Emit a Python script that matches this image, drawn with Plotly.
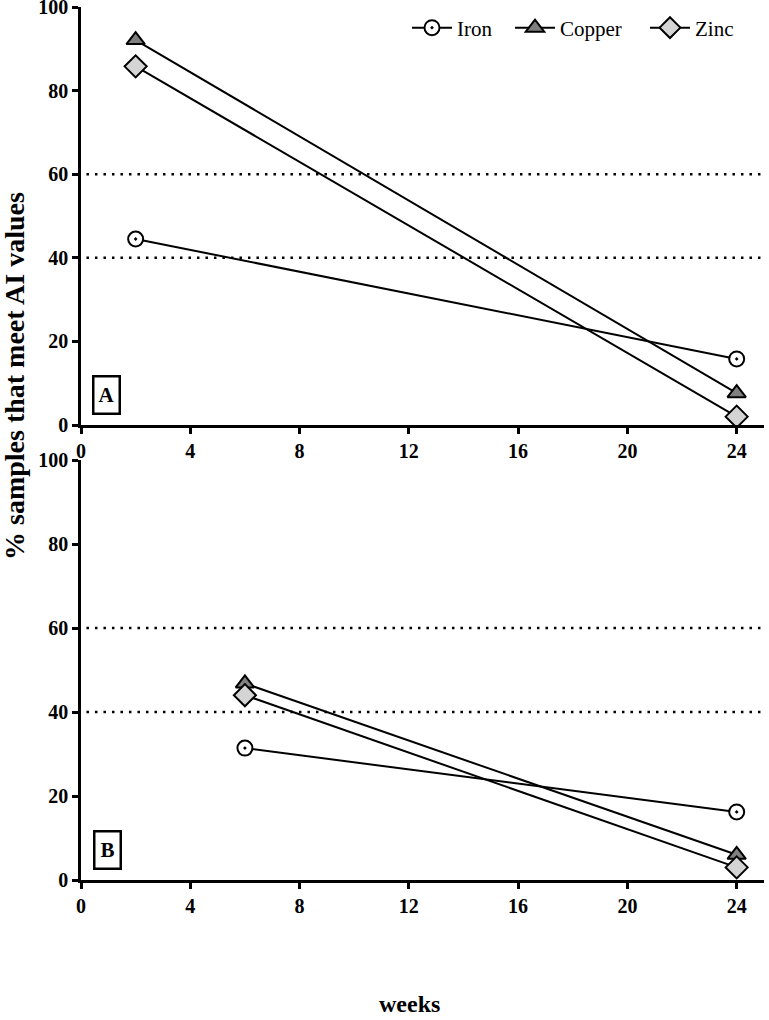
import plotly.graph_objects as go

weeks_a = [2, 24]
weeks_b = [6, 24]
iron_a = [44.5, 15.8]
copper_a = [92.1, 7.6]
zinc_a = [85.8, 2.0]
iron_b = [31.4, 16.2]
copper_b = [46.8, 6.0]
zinc_b = [44.0, 3.0]

series_names = ["Iron", "Copper", "Zinc"]
x_ticks = [0, 4, 8, 12, 16, 20, 24]
y_ticks = [0, 20, 40, 60, 80, 100]
ref_levels = [40, 60]

W, H = 769, 1020
ML, MR, MT, MB = 81, 5, 7, 140
PW = W - ML - MR
PH = H - MT - MB

styles = {
    "Iron": dict(symbol="circle-dot", color="white", size=15),
    "Copper": dict(symbol="triangle-up", color="#7f7f7f", size=16),
    "Zinc": dict(symbol="diamond", color="#d4d4d4", size=17),
}
legend_ids = {"Iron": "legend", "Copper": "legend2", "Zinc": "legend3"}

fig = go.Figure()

panels = [
    ("x", "y", weeks_a, [iron_a, copper_a, zinc_a], True),
    ("x2", "y2", weeks_b, [iron_b, copper_b, zinc_b], False),
]
for xa, ya, wk, vals, show in panels:
    for name, v in zip(series_names, vals):
        s = styles[name]
        fig.add_trace(go.Scatter(
            x=wk, y=v, name=name, mode="lines+markers", xaxis=xa, yaxis=ya,
            showlegend=show, legend=legend_ids[name], cliponaxis=False,
            line=dict(color="black", width=2),
            marker=dict(symbol=s["symbol"], size=s["size"], color=s["color"],
                        line=dict(color="black", width=2)),
        ))

for xr, yr in [("x", "y"), ("x2", "y2")]:
    for lv in ref_levels:
        fig.add_shape(type="line", xref=xr, yref=yr, x0=0.2, x1=25.0, y0=lv, y1=lv,
                      line=dict(color="black", width=2.5, dash="2.5px,6px"))

top_bottom = (H - MB - 425) / PH
bot_top = (H - MB - 460) / PH

tickfont = dict(family="Liberation Serif", size=20, color="black", weight="bold")
xcommon = dict(range=[0, 25.0], tickvals=x_ticks, showline=True, linecolor="black",
               linewidth=2.5, ticks="outside", ticklen=6, tickwidth=2.5, tickcolor="black",
               showgrid=False, zeroline=False, tickfont=tickfont, domain=[0, 1],
               automargin=False, ticklabeloverflow="allow")
ycommon = dict(range=[0, 100], tickvals=y_ticks, showline=True, linecolor="black",
               linewidth=2.5, ticks="outside", ticklen=6, tickwidth=2.5, tickcolor="black",
               showgrid=False, zeroline=False, tickfont=tickfont, automargin=False,
               ticklabeloverflow="allow")

def px_x(p):
    return (p - ML) / PW

def px_y(p):
    return (H - MB - p) / PH

legfont = dict(family="Liberation Serif", size=21, color="black")
def leg(xpx):
    return dict(orientation="h", x=px_x(xpx), xanchor="left", y=px_y(28), yanchor="middle",
                font=legfont, bgcolor="rgba(0,0,0,0)", itemwidth=40)

fig.update_layout(
    width=W, height=H,
    margin=dict(l=ML, r=MR, t=MT, b=MB, autoexpand=False),
    paper_bgcolor="white", plot_bgcolor="white",
    font=dict(family="Liberation Serif", color="black"),
    xaxis=dict(**xcommon, anchor="y"),
    yaxis=dict(**ycommon, domain=[top_bottom, 1], anchor="x"),
    xaxis2=dict(**xcommon, anchor="y2"),
    yaxis2=dict(**ycommon, domain=[0, bot_top], anchor="x2"),
    legend=leg(407), legend2=leg(510), legend3=leg(645),
    showlegend=True,
)

fig.add_annotation(text="<b>% samples that meet AI values</b>", textangle=-90,
                   x=px_x(14), y=px_y(376), xref="paper", yref="paper",
                   showarrow=False, xanchor="center", yanchor="middle",
                   font=dict(family="Liberation Serif", size=28, color="black"))
fig.add_annotation(text="<b>weeks</b>", x=px_x(409), y=px_y(1004), xref="paper", yref="paper",
                   showarrow=False, xanchor="center", yanchor="middle",
                   font=dict(family="Liberation Serif", size=24, color="black"))
for lab, cx, cy in [("A", 106, 395), ("B", 107, 850)]:
    fig.add_annotation(text="<b>" + lab + "</b>", x=px_x(cx), y=px_y(cy), xref="paper", yref="paper",
                       showarrow=False, xanchor="center", yanchor="middle",
                       width=24, height=35, borderpad=0, bordercolor="black", borderwidth=2.5,
                       bgcolor="white",
                       font=dict(family="Liberation Serif", size=21, color="black"))

fig.write_html("out.html", config={"displayModeBar": False},
               post_script="document.body.style.margin='0';document.body.style.padding='0';")
